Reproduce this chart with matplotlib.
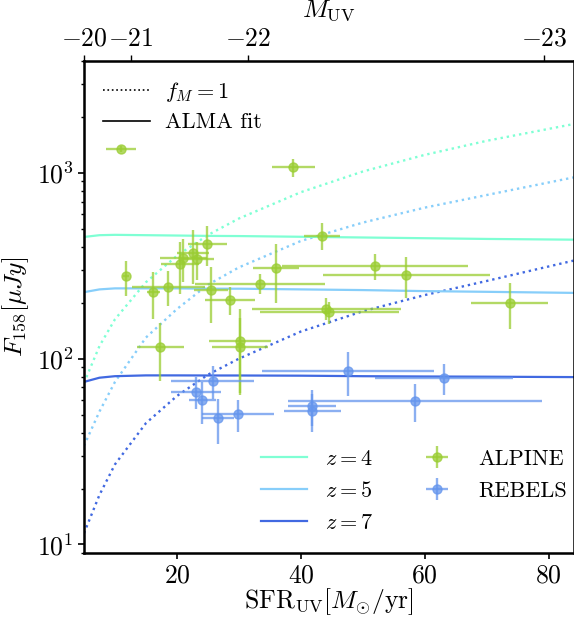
import numpy as np
import matplotlib
matplotlib.use('Agg')
from matplotlib import pyplot as plt
from matplotlib.lines import Line2D

plt.rcParams['font.family'] = 'serif'
plt.rcParams['font.serif'] = ['cmr10']
plt.rcParams['mathtext.fontset'] = 'cm'
plt.rcParams['axes.unicode_minus'] = False
plt.rcParams['axes.formatter.use_mathtext'] = True

# model curves at these SFR values
sfr_grid = [5, 7.5, 10, 15, 20, 25, 30, 40, 50, 60, 70, 84]
fm1_z4 = [74, 117, 163, 258, 358, 463, 568, 787, 1017, 1250, 1488, 1830]
fm1_z5 = [34, 52, 75, 130, 185, 250, 310, 430, 540, 650, 760, 945]
fm1_z7 = [11.5, 18.5, 27, 45, 63, 82, 100, 140, 180, 220, 262, 337]
fit_z4 = [452, 462, 464, 462, 460, 458, 457, 453, 449, 445, 441, 437]
fit_z5 = [228, 236, 239, 239, 239, 238, 238, 236, 234, 231, 229, 226]
fit_z7 = [75, 79, 80.5, 81.3, 81.3, 81.2, 81.2, 81, 80.5, 80.2, 80, 79.6]

# ALPINE
sfr_alp = [11.0, 38.8, 43.4, 11.8, 16.2, 18.6, 20.5, 21.0, 22.6, 23.3, 24.9, 25.5,
           28.6, 33.4, 36.0, 52.0, 57.0, 73.7, 44.1, 44.6, 17.3, 30.2, 30.2]
sfr_err_alp = [2.4, 3.5, 2.95, 0.5, 1.0, 5.85, 3.0, 3.8, 2.6, 2.6, 3.1, 2.8,
               4.0, 10.5, 3.7, 15.0, 13.5, 6.2, 12.0, 11.2, 3.8, 5.0, 4.5]
f_alp = [1346, 1072, 459, 277, 228, 243, 324, 349, 371, 345, 415, 233,
         208, 253, 308, 315, 283, 199, 186, 178, 116, 124, 115]
f_err_alp = [50, 120, 75, 60, 64, 52, 100, 90, 120, 80, 100, 77,
             36, 31, 108, 50, 71, 55, 25, 25, 40, 60, 50]

# REBELS
sfr_reb = [47.6, 63.1, 58.4, 41.8, 41.8, 25.8, 23.1, 24.1, 26.6, 29.8]
sfr_err_reb = [13.9, 11.1, 20.5, 3.8, 4.6, 6.7, 4.0, 2.2, 2.6, 5.8]
f_reb = [85.7, 79.0, 59.4, 55.6, 52.2, 75.9, 66.5, 59.7, 47.7, 50.1]
f_err_reb = [23, 15, 14, 12, 12, 15, 13, 15, 13, 10]

muv_ticks = [-20, -21, -22, -23]

fig = plt.figure(figsize=(5.74, 6.17), dpi=100)
ax = fig.add_axes([84 / 574, 64 / 617, 489.5 / 574, 492 / 617])

c4, c5, c7 = 'aquamarine', 'lightskyblue', 'royalblue'
ax.plot(sfr_grid, fm1_z4, ':', color=c4, lw=1.7)
ax.plot(sfr_grid, fm1_z5, ':', color=c5, lw=1.7)
ax.plot(sfr_grid, fm1_z7, ':', color=c7, lw=1.7)
l4, = ax.plot(sfr_grid, fit_z4, '-', color=c4, lw=1.6, label='$z=4$')
l5, = ax.plot(sfr_grid, fit_z5, '-', color=c5, lw=1.6, label='$z=5$')
l7, = ax.plot(sfr_grid, fit_z7, '-', color=c7, lw=1.6, label='$z=7$')

e1 = ax.errorbar(sfr_alp, f_alp, xerr=sfr_err_alp, yerr=f_err_alp, fmt='o',
                 color='yellowgreen', ms=6.5, elinewidth=1.7, alpha=0.75, label='ALPINE')
e2 = ax.errorbar(sfr_reb, f_reb, xerr=sfr_err_reb, yerr=f_err_reb, fmt='o',
                 color='cornflowerblue', ms=6.5, elinewidth=1.7, alpha=0.75, label='REBELS')

ax.set_yscale('log')
ax.set_xlim(5, 84)
ax.set_ylim(9, 4000)
ax.set_xticks([20, 40, 60, 80])
ax.tick_params(labelsize=18.5, width=1.2, length=4)
ax.tick_params(which='minor', width=1.0, length=2.5)
for s in ax.spines.values():
    s.set_linewidth(1.8)
ax.set_xlabel(r'$\mathrm{SFR}_{\mathrm{UV}}[M_{\odot}/\mathrm{yr}]$', fontsize=18.5, labelpad=-1)
ax.set_ylabel(r'$F_{158}[\mu Jy]$', fontsize=18.5, labelpad=4)

# top axis in absolute UV magnitude
ax2 = ax.twiny()
ax2.set_xlim(ax.get_xlim())
ax2.set_xticks([5 * 10 ** (-0.4 * (m + 20)) for m in muv_ticks])
ax2.set_xticklabels(['$%d$' % m for m in muv_ticks])
ax2.tick_params(labelsize=18.5, width=1.0, length=4)
ax2.set_xlabel(r'$M_{\mathrm{UV}}$', fontsize=18.5, labelpad=7)

h1 = [Line2D([], [], color='k', ls=':', lw=1.2), Line2D([], [], color='k', ls='-', lw=1.2)]
leg1 = ax.legend(h1, ['$f_M=1$', 'ALMA fit'], loc='upper left', frameon=False,
                 fontsize=16, handlelength=2.1, handletextpad=0.7, labelspacing=0.4,
                 borderaxespad=0.45)
ax.add_artist(leg1)
ax.legend([l4, l5, l7, e1, e2], ['$z=4$', '$z=5$', '$z=7$', 'ALPINE', 'REBELS'],
          loc='lower right', bbox_to_anchor=(1.028, 0.0), ncol=2, frameon=False,
          fontsize=16, handlelength=2.1, handletextpad=0.8, labelspacing=0.55,
          columnspacing=1.83)

fig.savefig('out.png', dpi=100)
